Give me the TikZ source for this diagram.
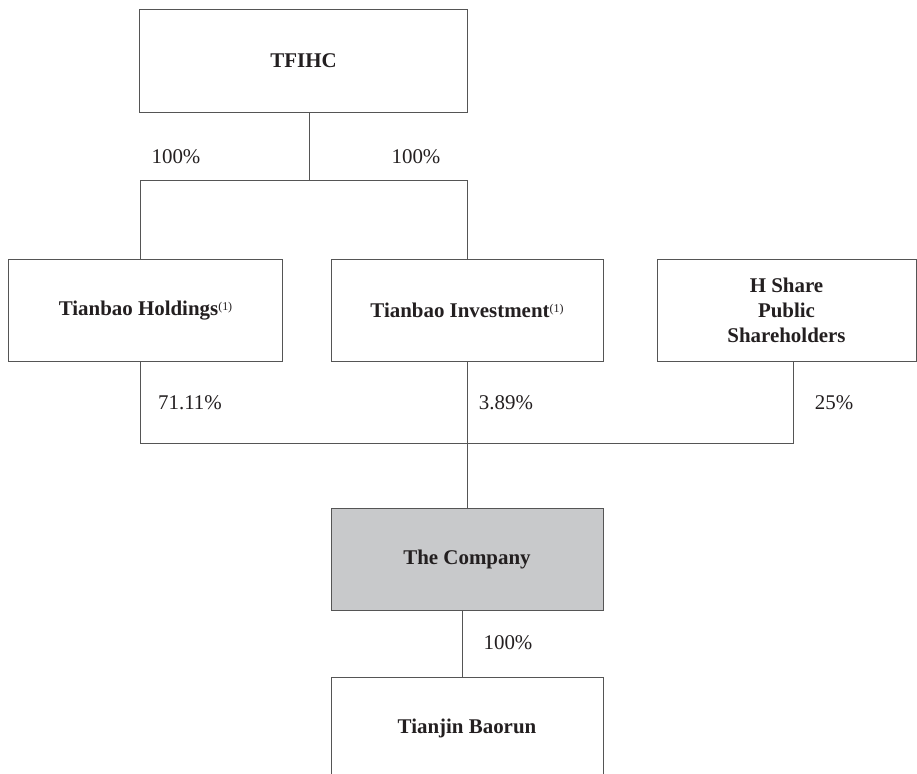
\documentclass[tikz,border=0pt]{standalone}
\usepackage{fontspec}
\setmainfont{Liberation Serif}
\usepackage{tikz}
\definecolor{chartline}{RGB}{85,85,85}
\definecolor{chartink}{RGB}{35,31,32}
\definecolor{companyfill}{RGB}{200,201,203}
\newcommand{\fnote}{\raisebox{5bp}{\normalfont\fontsize{12}{12}\selectfont(1)}}
\tikzset{
  entity/.style={draw=chartline,line width=1bp,minimum width=272bp,minimum height=102bp,
    inner sep=0pt,align=center,text=chartink,font={\fontsize{21}{25}\selectfont\bfseries}},
  pct/.style={inner sep=0pt,text=chartink,font={\fontsize{21}{25}\selectfont}},
  link/.style={draw=chartline,line width=1bp},
}

\begin{document}
\begin{tikzpicture}[x=1bp,y=-1bp]
\useasboundingbox (0,0) rectangle (917,774);
\node[entity,minimum width=327bp] (tfihc) at (303.5,61) {TFIHC};
\node[entity,minimum width=273bp] (holdings) at (145.5,310.5) {Tianbao Holdings\fnote};
\node[entity] (invest) at (467,310) {Tianbao Investment\fnote};
\node[entity,minimum width=259bp] (hshare) at (786.5,310) {H Share\\Public\\Shareholders};
\node[entity,fill=companyfill] (company) at (467,559.5) {The Company};
\node[entity] (baorun) at (467,728) {Tianjin Baorun};

\coordinate (topbus) at (309,180);
\coordinate (topL) at (140,180);
\coordinate (topR) at (467,180);
\coordinate (lowL) at (140,443);
\coordinate (lowR) at (793,443);
\coordinate (subbus) at (462,643);

\draw[link] (tfihc.south -| topbus) -- (topbus);
\draw[link] (holdings.north -| topL) -- (topL) -- (topR) -- (invest.north);
\draw[link] (holdings.south -| lowL) -- (lowL) -- (lowR) -- (hshare.south -| lowR);
\draw[link] (invest.south) -- (company.north);
\draw[link] (company.south -| subbus) -- (baorun.north -| subbus);

\node[pct] (pctholdings) at (176,157) {100\%};
\node[pct] (pctinvest) at (416,157) {100\%};
\node[pct] (pcttianbao) at (190,403) {71.11\%};
\node[pct] (pctinvco) at (506,403) {3.89\%};
\node[pct] (pcthshare) at (834,403) {25\%};
\node[pct] (pctbaorun) at (508,643) {100\%};
\end{tikzpicture}
\end{document}
